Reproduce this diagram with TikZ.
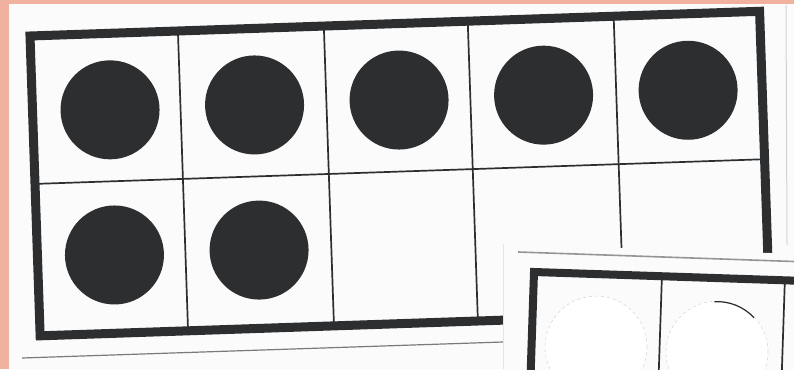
\documentclass[tikz,border=0pt]{standalone}
\definecolor{bgpink}{RGB}{240,178,158}
\definecolor{paper}{RGB}{251,251,251}
\definecolor{ink}{RGB}{44,46,48}
\definecolor{edge}{RGB}{120,122,124}
\tikzset{
  frameline/.style={draw=ink, line width=9pt, line join=miter},
  gridline/.style={draw=ink, line width=1.7pt},
  fulldot/.style={circle, fill=ink, draw=none, minimum size=99pt, inner sep=0pt},
  emptydot/.style={circle, fill=white, draw=gray!30, line width=0.6pt, dashed, minimum size=102pt, inner sep=0pt},
  paperedge/.style={draw=edge, line width=1.2pt}
}
\begin{document}
\begin{tikzpicture}[x=1pt,y=-1pt]
\useasboundingbox (0,0) rectangle (794,369);
\clip (0,0) rectangle (794,369);
% background
\fill[paper] (0,0) rectangle (794,369);
\fill[bgpink] (0,0) rectangle (9,369);
\fill[bgpink] (0,0) rectangle (794,4.5);
% paper edges of the first card
\coordinate (pe1) at (22,358);
\coordinate (pe2) at (503,342);
\draw[paperedge] (pe1) -- (pe2);
\coordinate (pr1) at (786,5);
\coordinate (pr2) at (787,245);
\draw[draw=gray!35, line width=1pt] (pr1) -- (pr2);
% first ten-frame
\begin{scope}[shift={(30,36)}, rotate=1.94]
  \draw[frameline] (0,0) rectangle (730,300);
  \draw[gridline] (0,148) -- (730,148);
  \foreach \u in {148,294,438,584} {
    \draw[gridline] (\u,0) -- (\u,300);
  }
  \node[fulldot] (d1) at (77.5,76.5) {};
  \node[fulldot] (d2) at (222.1,76.5) {};
  \node[fulldot] (d3) at (366.7,76.5) {};
  \node[fulldot] (d4) at (511.3,76.5) {};
  \node[fulldot] (d5) at (655.9,76.5) {};
  \node[fulldot] (d6) at (77.0,221.7) {};
  \node[fulldot] (d7) at (221.7,221.7) {};
\end{scope}
% second card overlapping at bottom right
\fill[paper] (503,244) -- (800,254) -- (800,372) -- (503,372) -- cycle;
\coordinate (sl1) at (503,244);
\coordinate (sl2) at (503,369);
\draw[draw=gray!20, line width=0.8pt] (sl1) -- (sl2);
\coordinate (se1) at (518,252);
\coordinate (se2) at (794,261.5);
\draw[draw=edge!80, line width=1.6pt] (se1) -- (se2);
\begin{scope}[shift={(534,272)}, rotate=-1.9]
  \draw[frameline, line width=8pt] (0,0) rectangle (400,250);
  \draw[gridline] (128,0) -- (128,250);
  \draw[gridline] (251,0) -- (251,250);
  \node[emptydot] (e1) at (64.5,73) {};
  \node[emptydot] (e2) at (185.6,74) {};
  \draw[draw=ink, line width=1.2pt] (e2.center) ++(-95:50.5) arc[start angle=-95, end angle=-45, radius=50.5];
\end{scope}
\end{tikzpicture}
\end{document}
